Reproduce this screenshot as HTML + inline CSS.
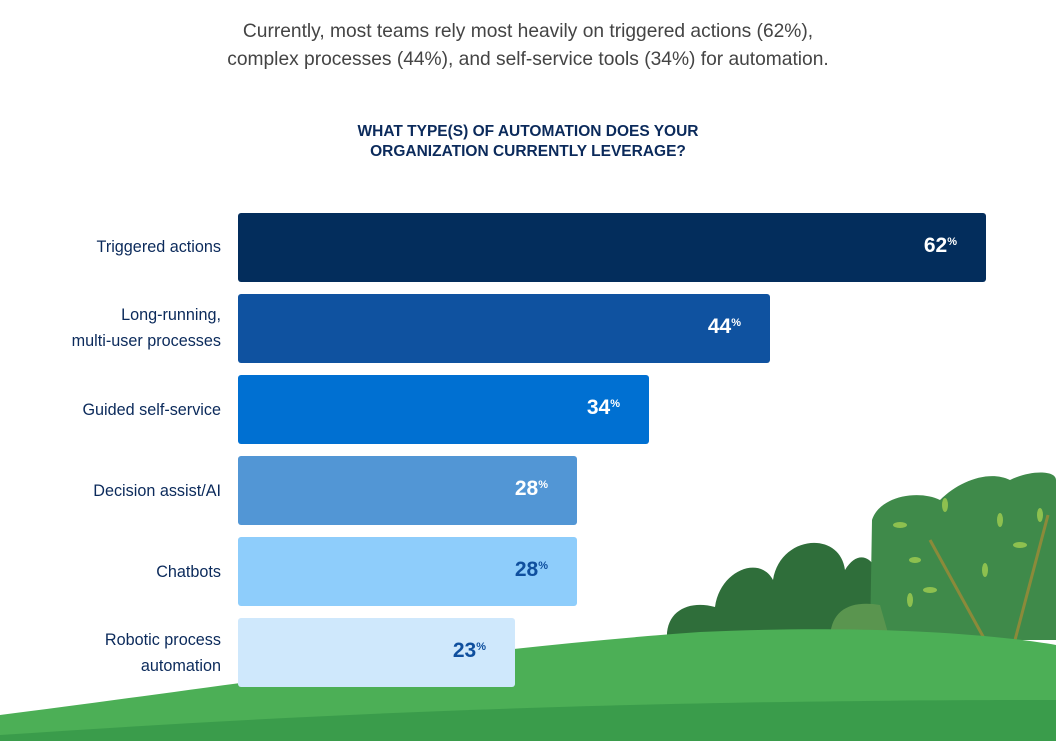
<!DOCTYPE html>
<html><head><meta charset="utf-8"><style>
body{margin:0;width:1056px;height:741px;overflow:hidden;background:#fff;font-family:"Liberation Sans",sans-serif;position:relative}
.sub{position:absolute;top:18px;left:0;width:1056px;text-align:center;font-size:19.2px;line-height:28px;color:#444}
.ttl{position:absolute;top:122px;left:0;width:1056px;text-align:center;font-size:15.5px;line-height:20px;font-weight:bold;color:#0b2a5b}
.lab{position:absolute;right:835px;width:230px;text-align:right;font-size:16.2px;line-height:26px;color:#0b2a5b}
.bar{position:absolute;left:238px;height:69px;border-radius:3px}
.v{position:absolute;right:29px;top:21px;font-size:21px;font-weight:900;color:#fff}
.v sup{font-size:11px;vertical-align:7px}
</style></head><body>
<div class="sub">Currently, most teams rely most heavily on triggered actions (62%),<br>complex processes (44%), and self-service tools (34%) for automation.</div>
<div class="ttl">WHAT TYPE(S) OF AUTOMATION DOES YOUR<br>ORGANIZATION CURRENTLY LEVERAGE?</div>
<svg style="position:absolute;left:0;top:0" width="1056" height="741">
<path d="M667 640 C665 610 690 600 715 607 C720 570 760 555 773 580 C780 535 840 530 845 570 C860 545 880 560 880 590 L880 640Z" fill="#2f6e3a"/>
<path d="M870 640 L872 520 C880 495 920 490 940 500 C960 480 990 470 1010 480 C1030 470 1056 470 1056 480 L1056 640Z" fill="#3f8a4a"/>
<path d="M830 640 C830 610 850 600 880 605 L890 640Z" fill="#5a954f"/>
<g fill="#8dc04f"><ellipse cx="900" cy="525" rx="7" ry="3"/><ellipse cx="915" cy="560" rx="6" ry="3"/><ellipse cx="945" cy="505" rx="3" ry="7"/><ellipse cx="1000" cy="520" rx="3" ry="7"/><ellipse cx="1020" cy="545" rx="7" ry="3"/><ellipse cx="1040" cy="515" rx="3" ry="7"/><ellipse cx="930" cy="590" rx="7" ry="3"/><ellipse cx="985" cy="570" rx="3" ry="7"/><ellipse cx="910" cy="600" rx="3" ry="7"/></g>
<path d="M930 540 L985 640 M1048 515 L1015 640" stroke="#8b8a3a" stroke-width="3"/>
<path d="M0 715 C200 690 450 650 700 632 C850 625 980 632 1056 645 L1056 741 L0 741Z" fill="#4caf56"/>
<path d="M0 735 C300 715 600 700 1056 700 L1056 741 L0 741Z" fill="#2f8f44" opacity="0.6"/>
</svg>
<div class="lab" style="top:234px">Triggered actions</div>
<div class="bar" style="top:213px;width:748px;background:#032d5c"><div class="v">62<sup>%</sup></div></div>
<div class="lab" style="top:302px">Long-running,<br>multi-user processes</div>
<div class="bar" style="top:294px;width:532px;background:#0f52a0"><div class="v">44<sup>%</sup></div></div>
<div class="lab" style="top:397px">Guided self-service</div>
<div class="bar" style="top:375px;width:411px;background:#0070d2"><div class="v">34<sup>%</sup></div></div>
<div class="lab" style="top:478px">Decision assist/AI</div>
<div class="bar" style="top:456px;width:339px;background:#5296d5"><div class="v">28<sup>%</sup></div></div>
<div class="lab" style="top:559px">Chatbots</div>
<div class="bar" style="top:537px;width:339px;background:#8ecdfb"><div class="v" style="color:#0f4f9e">28<sup>%</sup></div></div>
<div class="lab" style="top:627px">Robotic process<br>automation</div>
<div class="bar" style="top:618px;width:277px;background:#cfe8fc"><div class="v" style="color:#0f4f9e">23<sup>%</sup></div></div>
</body></html>
